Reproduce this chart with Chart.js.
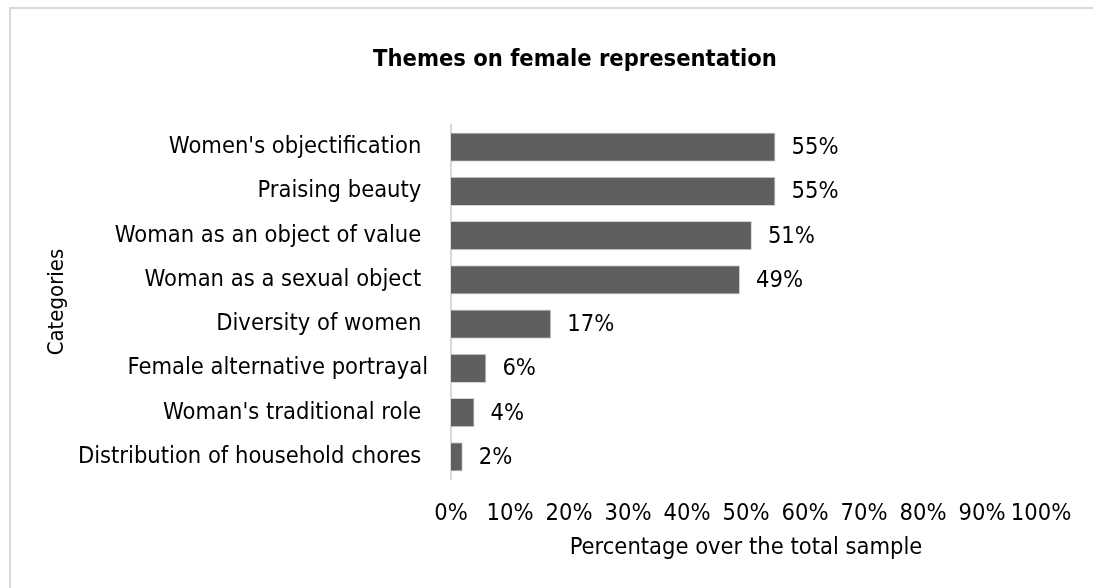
<!DOCTYPE html>
<html>
<head>
<meta charset="utf-8">
<script src="https://cdn.jsdelivr.net/npm/chart.js@4.4.0/dist/chart.umd.min.js"></script>
<style>
  html, body { margin: 0; padding: 0; background: #fff; overflow: hidden; }
  #wrap { position: relative; width: 1093px; height: 588px; overflow: hidden; }
  #frame { position: absolute; left: 9px; top: 7px; width: 1200px; height: 700px;
           border-left: 2px solid #d9d9d9; border-top: 2px solid #d9d9d9; pointer-events: none; }
</style>
</head>
<body>
<div id="wrap">
  <canvas id="chart" width="1093" height="588"></canvas>
  <div id="frame"></div>
</div>
<script>
// data
const categories = [
  "Women's objectification ",
  'Praising beauty ',
  'Woman as an object of value ',
  'Woman as a sexual object ',
  'Diversity of women ',
  'Female alternative portrayal',
  "Woman's traditional role ",
  'Distribution of household chores '
];
const shares = [55, 55, 51, 49, 17, 6, 4, 2];
const shareLabels = ['55%', '55%', '51%', '49%', '17%', '6%', '4%', '2%'];
const xTickLabels = ['0%', '10%', '20%', '30%', '40%', '50%', '60%', '70%', '80%', '90%', '100%'];

const chartTitle = 'Themes on female representation';
const FONT = "'DejaVu Sans Condensed', 'DejaVu Sans', sans-serif";
const baseFont = { family: FONT, size: 23.5 };

// title centred over the whole figure rather than the plot area
const titlePlugin = {
  id: 'figureTitle',
  afterDraw(chart) {
    const ctx = chart.ctx;
    ctx.save();
    ctx.font = 'bold 23.5px ' + FONT;
    ctx.fillStyle = '#000';
    ctx.textAlign = 'center';
    ctx.textBaseline = 'middle';
    ctx.fillText(chartTitle, 575, 60);
    ctx.restore();
  }
};

// percentage next to the end of each bar
const valueLabels = {
  id: 'valueLabels',
  afterDatasetsDraw(chart) {
    const ctx = chart.ctx;
    const meta = chart.getDatasetMeta(0);
    ctx.save();
    ctx.font = '23.5px ' + FONT;
    ctx.fillStyle = '#000';
    ctx.textAlign = 'left';
    ctx.textBaseline = 'middle';
    meta.data.forEach((bar, i) => {
      ctx.fillText(shareLabels[i], bar.x + 16, bar.y + 1);
    });
    ctx.restore();
  }
};

const ctx = document.getElementById('chart').getContext('2d');
const chart = new Chart(ctx, {
  type: 'bar',
  data: {
    labels: categories,
    datasets: [{
      data: shares,
      backgroundColor: '#5f5f5f',
      borderColor: '#d4d4d4',
      borderWidth: 1,
      categoryPercentage: 1,
      barPercentage: 0.66
    }]
  },
  options: {
    indexAxis: 'y',
    responsive: false,
    animation: false,
    devicePixelRatio: 1,
    layout: { padding: { top: 125, right: 52, bottom: 0, left: 0 } },
    plugins: {
      legend: { display: false },
      title: { display: false },
      tooltip: { enabled: false }
    },
    scales: {
      x: {
        min: 0,
        max: 100,
        ticks: {
          stepSize: 10,
          autoSkip: false,
          maxRotation: 0,
          padding: 21,
          color: '#000',
          font: baseFont,
          callback: (v, i) => xTickLabels[i]
        },
        grid: { display: false, drawTicks: false },
        border: { display: false },
        title: {
          display: true,
          text: 'Percentage over the total sample',
          color: '#000',
          font: baseFont,
          padding: { top: 0, bottom: 26 }
        },
        afterFit(scale) { scale.height = 109; }
      },
      y: {
        ticks: { autoSkip: false, padding: 23, color: '#000', font: baseFont },
        grid: { display: false, drawTicks: false },
        border: { display: true, color: '#d9d9d9', width: 2 },
        title: {
          display: true,
          text: 'Categories',
          color: '#000',
          font: { family: FONT, size: 22 },
          padding: { top: 44, bottom: 0 }
        },
        afterFit(scale) { scale.width = 451; }
      }
    }
  },
  plugins: [titlePlugin, valueLabels]
});
</script>
</body>
</html>
